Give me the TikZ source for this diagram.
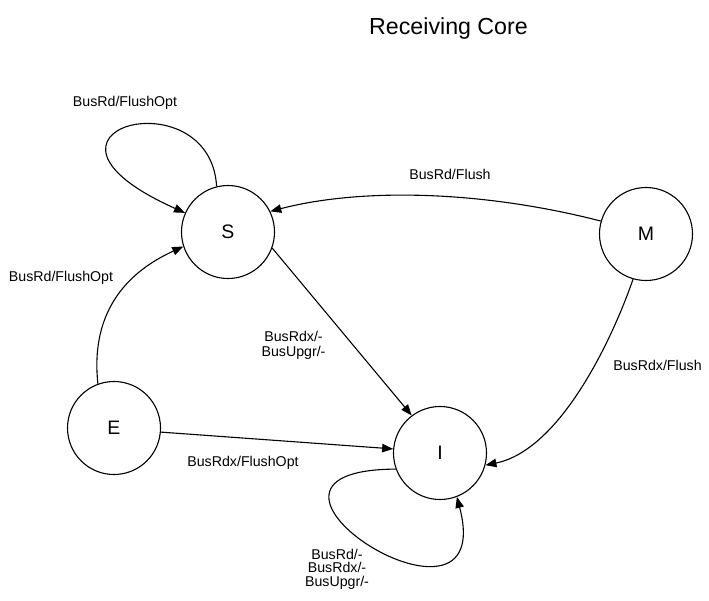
\documentclass[tikz,border=0pt]{standalone}
\usepackage{fontspec}
\setmainfont{Liberation Sans}
\usetikzlibrary{arrows.meta}
\begin{document}
\begin{tikzpicture}[x=1pt,y=-1pt,
  state/.style={circle,draw,line width=1.1pt,minimum size=93pt,inner sep=0pt,font=\fontsize{19.5}{19.5}\selectfont},
  conn/.style={line width=1.1pt,-{Triangle[length=11pt,width=8.5pt]}},
  lab/.style={font=\fontsize{14.2}{14.2}\selectfont,anchor=base,inner sep=0pt},
  ttl/.style={font=\fontsize{23.2}{23.2}\selectfont,anchor=base,inner sep=0pt}]
\useasboundingbox (0,0) rectangle (709,600);
\node[ttl] (title) at (448.5,34) {Receiving Core};
\node[state] (S) at (228,232) {S};
\node[state] (M) at (646,234) {M};
\node[state] (E) at (114,428) {E};
\node[state] (I) at (440,453) {I};
% connectors
\draw[conn] (S.104) .. controls (210,75) and (0,130) .. (S.156);
\draw[conn] (M.164) .. controls (480,190) and (360,188) .. (S.26);
\draw[conn] (S.-20) -- (I.127);
\draw[conn] (E.110) .. controls (92,330) and (110,280) .. (S.198);
\draw[conn] (E.-5) -- (I.175);
\draw[conn] (M.-106) .. controls (612,340) and (560,450) .. (I.-15);
\draw[conn] (I.-160) .. controls (200,470) and (500,660) .. (I.-69);
% labels
\node[lab] (l1) at (125,106.5) {BusRd/FlushOpt};
\node[lab] (l2) at (450,179) {BusRd/Flush};
\node[lab] (l3) at (61,281.5) {BusRd/FlushOpt};
\node[lab] (l4a) at (293.5,341.5) {BusRdx/-};
\node[lab] (l4b) at (293.5,356.5) {BusUpgr/-};
\node[lab] (l5) at (657.5,370.5) {BusRdx/Flush};
\node[lab] (l6) at (243,466.5) {BusRdx/FlushOpt};
\node[lab] (l7a) at (337,559) {BusRd/-};
\node[lab] (l7b) at (337,572.5) {BusRdx/-};
\node[lab] (l7c) at (337,586) {BusUpgr/-};
\end{tikzpicture}
\end{document}
